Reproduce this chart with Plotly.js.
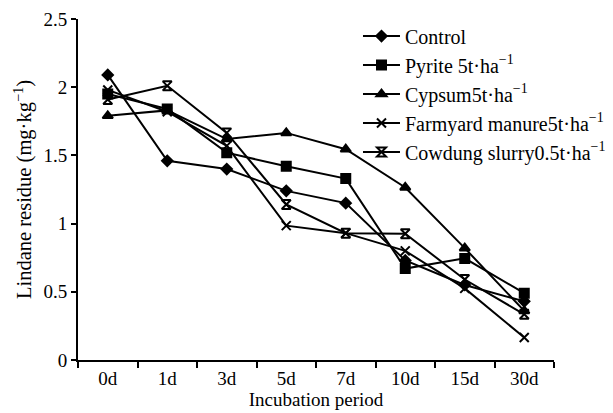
<!DOCTYPE html>
<html>
<head>
<meta charset="utf-8">
<script src="https://cdn.plot.ly/plotly-3.0.1.min.js"></script>
<style>html,body{margin:0;padding:0;background:#fff;}#chart{width:613px;height:413px;}</style>
</head>
<body>
<div id="chart"></div>
<script>
const categories = ["0d", "1d", "3d", "5d", "7d", "10d", "15d", "30d"];
const control  = [2.09, 1.46, 1.40, 1.24, 1.15, 0.73, 0.55, 0.43];
const pyrite   = [1.95, 1.84, 1.52, 1.42, 1.33, 0.67, 0.745, 0.49];
const cypsum   = [1.79, 1.83, 1.62, 1.665, 1.545, 1.265, 0.82, 0.36];
const farmyard = [1.98, 1.82, 1.57, 0.985, 0.93, 0.80, 0.525, 0.165];
const cowdung  = [1.91, 2.01, 1.665, 1.14, 0.93, 0.925, 0.59, 0.335];
const seriesNames = ["Control", "Pyrite 5t·ha<sup>−1</sup>", "Cypsum5t·ha<sup>−1</sup>", "Farmyard manure5t·ha<sup>−1</sup>", "Cowdung slurry0.5t·ha<sup>−1</sup>"];
const yTickLabels = ["0", "0.5", "1", "1.5", "2", "2.5"];
const yTickVals = [0, 0.5, 1, 1.5, 2, 2.5];

const symbols = ["diamond", "square", "triangle-up", "x-thin-open", "hourglass-open"];
const sizes = [8, 9, 9, 9, 9];
const values = [control, pyrite, cypsum, farmyard, cowdung];

const traces = values.map((v, i) => ({
  type: "scatter",
  mode: "lines+markers",
  x: categories,
  y: v,
  name: seriesNames[i],
  line: {color: "#000", width: 2},
  marker: {symbol: symbols[i], size: sizes[i], color: "#000", line: {color: "#000", width: 2}}
}));

const fam = "Liberation Serif, Times New Roman, serif";

const layout = {
  width: 613, height: 413,
  margin: {l: 78, r: 59, t: 19, b: 53, autoexpand: false},
  paper_bgcolor: "#fff", plot_bgcolor: "#fff",
  font: {family: fam, color: "#000", size: 19},
  showlegend: true,
  legend: {xref: "container", yref: "container", x: 0.584, xanchor: "left", y: 0.96, yanchor: "top",
           font: {family: fam, size: 20, color: "#000"}, bgcolor: "rgba(0,0,0,0)", itemwidth: 37, tracegroupgap: 0},
  xaxis: {
    type: "category",
    tickson: "boundaries",
    ticks: "outside", ticklen: 6, tickwidth: 2, tickcolor: "#000",
    showline: true, linecolor: "#000", linewidth: 2,
    showgrid: false, zeroline: false,
    range: [-0.5, 7.5],
    tickfont: {family: fam, size: 19, color: "#000"},
    title: {text: "Incubation period", font: {family: fam, size: 19, color: "#000"}, standoff: 3}
  },
  yaxis: {
    range: [0, 2.5],
    tickvals: yTickVals,
    ticktext: yTickLabels,
    ticks: "outside", ticklen: 5, tickwidth: 2, tickcolor: "#000",
    showline: true, linecolor: "#000", linewidth: 2,
    showgrid: false, zeroline: false,
    tickfont: {family: fam, size: 19, color: "#000"},
    title: {text: "Lindane residue (mg·kg<sup>−1</sup>)", font: {family: fam, size: 20.5, color: "#000"}, standoff: 6}
  }
};

Plotly.newPlot("chart", traces, layout, {displayModeBar: false, staticPlot: true});
</script>
</body>
</html>
